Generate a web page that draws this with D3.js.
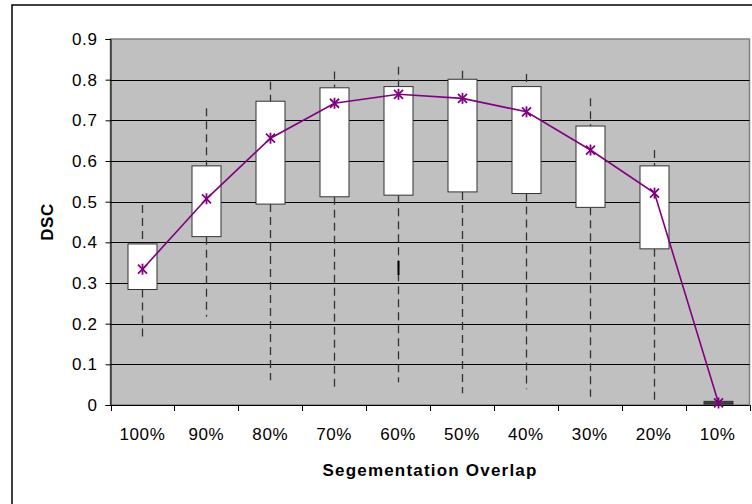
<!DOCTYPE html>
<html>
<head>
<meta charset="utf-8">
<script src="https://cdn.jsdelivr.net/npm/d3@7"></script>
<style>
  body { margin: 0; background: #fff; }
  text { font-family: "Liberation Sans", Arial, sans-serif; fill: #000; }
</style>
</head>
<body>
<script>
// overlap categories (x axis)
const categories = ["100%", "90%", "80%", "70%", "60%", "50%", "40%", "30%", "20%", "10%"];
// box plot values per category
const whiskerHigh = [0.492, 0.730, 0.795, 0.820, 0.832, 0.822, 0.814, 0.754, 0.627, null];
const q3 = [0.396, 0.588, 0.747, 0.780, 0.783, 0.801, 0.783, 0.686, 0.588, 0.009];
const q1 = [0.284, 0.414, 0.494, 0.512, 0.516, 0.524, 0.520, 0.486, 0.384, 0.002];
const whiskerLow = [0.168, 0.217, 0.061, 0.045, 0.056, 0.029, 0.039, 0.020, 0.007, null];
const means = [0.334, 0.507, 0.656, 0.742, 0.764, 0.754, 0.721, 0.627, 0.521, 0.005];
// single stray mark inside the 60% column
const strayCat = ["60%"];
const strayVal = [0.337];
const yTicks = [0, 0.1, 0.2, 0.3, 0.4, 0.5, 0.6, 0.7, 0.8, 0.9];

const width = 752;
const height = 504;
const plot = { left: 110.5, right: 749.5, top: 39, bottom: 405 };

const svg = d3.select("body").append("svg").attr("width", width).attr("height", height);

// outer chart border (runs off the right and bottom edges)
svg.append("rect")
  .attr("x", 12).attr("y", 5)
  .attr("width", 780).attr("height", 540)
  .attr("fill", "#fff").attr("stroke", "#000").attr("stroke-width", 1.5);

const xScale = d3.scaleBand()
  .domain(categories)
  .range([plot.left, plot.right]);

const yScale = d3.scaleLinear()
  .domain([0, 0.9])
  .range([plot.bottom, plot.top]);

// plot area
svg.append("rect")
  .attr("x", plot.left).attr("y", plot.top)
  .attr("width", plot.right - plot.left).attr("height", plot.bottom - plot.top)
  .attr("fill", "#c0c0c0").attr("stroke", "#808080").attr("stroke-width", 1.5);

// gridlines
svg.append("g")
  .selectAll("line")
  .data(yTicks.filter(d => d > 0 && d < 0.9))
  .join("line")
  .attr("x1", plot.left).attr("x2", plot.right)
  .attr("y1", d => Math.round(yScale(d)) + 0.5)
  .attr("y2", d => Math.round(yScale(d)) + 0.5)
  .attr("stroke", "#000").attr("stroke-width", 1);

// axes
const axisy = d3.axisLeft(yScale)
  .tickValues(yTicks)
  .tickFormat(d3.format("~g"))
  .tickSize(5)
  .tickPadding(8);
const gy = svg.append("g")
  .attr("transform", "translate(" + plot.left + ",0)")
  .call(axisy);
gy.select(".domain").attr("stroke", "#000");
gy.selectAll(".tick line").attr("stroke", "#000");
gy.selectAll(".tick text")
  .attr("font-size", 17)
  .attr("letter-spacing", 0.6)
  .attr("font-family", "Liberation Sans, Arial, sans-serif");

const gx = svg.append("g")
  .attr("transform", "translate(0," + plot.bottom + ")");
gx.append("line")
  .attr("x1", plot.left).attr("x2", plot.right)
  .attr("y1", 0.5).attr("y2", 0.5)
  .attr("stroke", "#000");
gx.selectAll(".xtick")
  .data(categories.concat(["end"]))
  .join("line")
  .attr("class", "xtick")
  .attr("x1", (d, i) => Math.round(plot.left + i * xScale.bandwidth()) + 0.5)
  .attr("x2", (d, i) => Math.round(plot.left + i * xScale.bandwidth()) + 0.5)
  .attr("y1", 0).attr("y2", 6)
  .attr("stroke", "#000");
gx.selectAll(".xlab")
  .data(categories)
  .join("text")
  .attr("class", "xlab")
  .attr("x", d => xScale(d) + xScale.bandwidth() / 2)
  .attr("y", 35)
  .attr("text-anchor", "middle")
  .attr("font-size", 17)
  .attr("letter-spacing", 0.6)
  .text(d => d);

const boxW = 29;
const cx = d => Math.round(xScale(d) + xScale.bandwidth() / 2) + 0.5;

// whiskers (dashed)
const whisk = svg.append("g")
  .attr("stroke", "#333")
  .attr("stroke-width", 1.3)
  .attr("stroke-dasharray", "8,5");
categories.forEach((c, i) => {
  if (whiskerHigh[i] == null) return;
  whisk.append("line")
    .attr("x1", cx(c)).attr("x2", cx(c))
    .attr("y1", yScale(whiskerHigh[i])).attr("y2", yScale(q3[i]));
  whisk.append("line")
    .attr("x1", cx(c)).attr("x2", cx(c))
    .attr("y1", yScale(q1[i])).attr("y2", yScale(whiskerLow[i]));
});

// boxes
svg.append("g")
  .selectAll("rect")
  .data(categories)
  .join("rect")
  .attr("x", d => cx(d) - boxW / 2)
  .attr("y", (d, i) => yScale(q3[i]))
  .attr("width", boxW)
  .attr("height", (d, i) => Math.max(1, yScale(q1[i]) - yScale(q3[i])))
  .attr("fill", (d, i) => (q3[i] - q1[i] < 0.02 ? "#404040" : "#fff"))
  .attr("stroke", "#333");

// stray mark
svg.append("g")
  .selectAll("line")
  .data(strayCat)
  .join("line")
  .attr("x1", d => cx(d)).attr("x2", d => cx(d))
  .attr("y1", (d, i) => yScale(strayVal[i]) - 7)
  .attr("y2", (d, i) => yScale(strayVal[i]) + 7)
  .attr("stroke", "#000").attr("stroke-width", 2);

// mean line
const line = d3.line()
  .x((d, i) => cx(categories[i]))
  .y(d => yScale(d));
svg.append("path")
  .datum(means)
  .attr("fill", "none")
  .attr("stroke", "#800080")
  .attr("stroke-width", 1.6)
  .attr("d", line);

// asterisk markers
const star = svg.append("g").attr("stroke", "#800080").attr("stroke-width", 1.8);
means.forEach((v, i) => {
  const x = cx(categories[i]);
  const y = yScale(v);
  star.append("line").attr("x1", x).attr("x2", x).attr("y1", y - 5.5).attr("y2", y + 5.5);
  star.append("line").attr("x1", x - 4.5).attr("x2", x + 4.5).attr("y1", y - 4.5).attr("y2", y + 4.5);
  star.append("line").attr("x1", x - 4.5).attr("x2", x + 4.5).attr("y1", y + 4.5).attr("y2", y - 4.5);
});

// axis titles
svg.append("text")
  .attr("transform", "translate(53," + (plot.top + plot.bottom) / 2 + ") rotate(-90)")
  .attr("text-anchor", "middle")
  .attr("font-size", 17)
  .attr("letter-spacing", 0.6)
  .attr("font-weight", "bold")
  .text("DSC");

svg.append("text")
  .attr("x", (plot.left + plot.right) / 2)
  .attr("y", 476)
  .attr("text-anchor", "middle")
  .attr("font-size", 17)
  .attr("letter-spacing", 1.2)
  .attr("font-weight", "bold")
  .text("Segementation Overlap");
</script>
</body>
</html>
